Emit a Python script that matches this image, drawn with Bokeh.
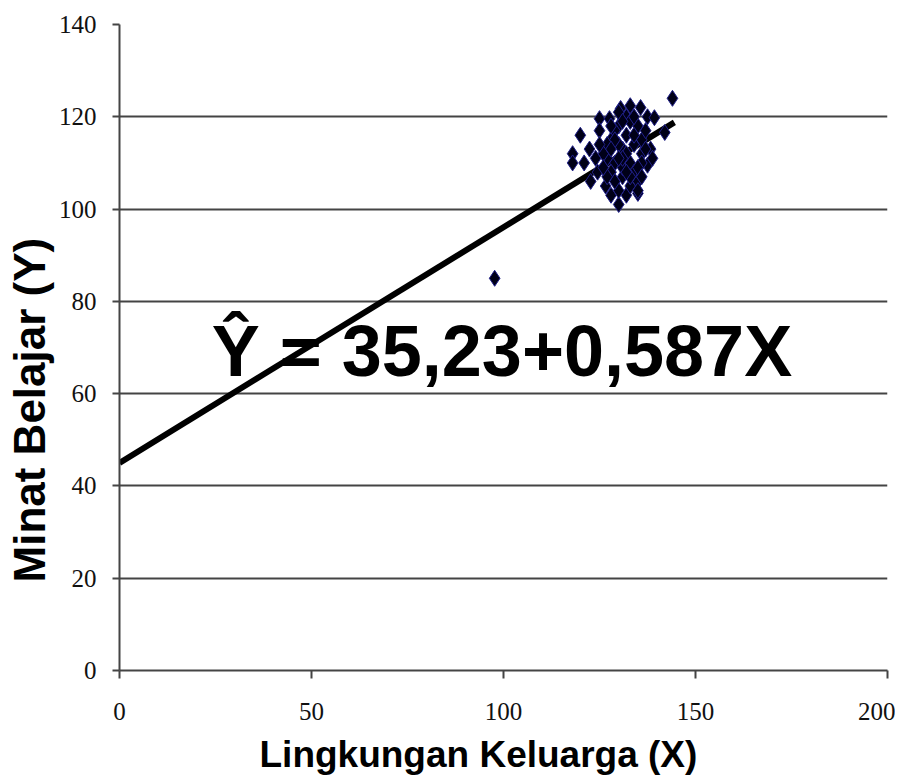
from bokeh.plotting import figure
from bokeh.models import Label, FixedTicker, Title
from bokeh.embed import file_html
from bokeh.resources import INLINE

# Data
x_vals = [144, 97.7, 120, 118, 122.4, 118, 121, 122.7, 125, 127.6, 125, 130.5, 133, 135.7,
          137.5, 139.3, 142, 130, 128, 132, 135, 126.6, 124.5, 137.5, 138.3, 138.8,
          128, 130, 131, 132, 133, 134, 135, 136, 129, 131, 133, 130, 127, 128, 134, 135,
          136, 132, 130, 129, 127, 126, 133, 137, 134, 131, 129, 136, 135, 128, 132, 130,
          127, 126, 134, 125, 124, 131, 137, 133, 131, 129, 135, 132, 130, 136, 128]
y_vals = [124, 85, 116, 112, 113, 110, 110, 106, 119.6, 119.6, 117, 121.8, 122.4, 122,
          120, 119.8, 116.6, 101, 103, 103, 103.4, 105, 108, 109.5, 113, 111,
          115, 118, 113, 116, 110, 114, 118, 112, 110, 107, 105, 104, 111, 108, 108, 106,
          115, 120, 121, 117, 114, 112, 119, 117, 120, 109, 106, 110, 104, 118, 112, 114,
          107, 109, 116, 114, 111, 119, 113, 107, 111, 115, 109, 108, 111, 107, 113]
line_x = [0, 144.5]
line_y = [45, 118.8]
x_ticks = [0, 50, 100, 150, 200]
y_ticks = [0, 20, 40, 60, 80, 100, 120, 140]
equation = "\u0176 = 35,23+0,587X"
x_title = "Lingkungan Keluarga (X)"
y_title = "Minat Belajar (Y)"

p = figure(frame_width=768, frame_height=646, x_range=(0, 200), y_range=(0, 140),
           output_backend="svg", toolbar_location=None,
           min_border_left=118, min_border_right=8, min_border_top=24, min_border_bottom=10)
p.outline_line_color = None
p.background_fill_color = "white"

p.xgrid.grid_line_color = None
p.ygrid.grid_line_color = "#444444"
p.ygrid.grid_line_width = 2
p.ygrid.ticker = FixedTicker(ticks=y_ticks)

p.xaxis.ticker = FixedTicker(ticks=x_ticks)
p.yaxis.ticker = FixedTicker(ticks=y_ticks)
for ax in (p.xaxis, p.yaxis):
    ax.axis_line_color = "#444444"
    ax.axis_line_width = 2
    ax.major_tick_line_color = "#444444"
    ax.major_tick_line_width = 2
    ax.minor_tick_line_color = None
    ax.major_label_text_font = "Liberation Serif"
    ax.major_label_text_font_size = "25px"
    ax.major_label_text_color = "#111111"

p.xaxis.major_tick_out = 8
p.xaxis.major_tick_in = 0
p.xaxis.major_label_standoff = 24
p.yaxis.major_tick_out = 7
p.yaxis.major_tick_in = 0
p.yaxis.major_label_standoff = 16

p.add_layout(Title(text=x_title, align="left", offset=140, text_font="Liberation Sans",
                   text_font_style="bold", text_font_size="37px", text_color="black",
                   standoff=19), "below")
p.add_layout(Title(text=y_title, align="left", offset=88, text_font="Liberation Sans",
                   text_font_style="bold", text_font_size="44px", text_color="black",
                   standoff=4), "left")

p.line(line_x, line_y, line_color="black", line_width=6)
p.scatter(x_vals, y_vals, marker="diamond", size=16, fill_color="#000018",
          line_color="#20208a", line_width=1)

p.add_layout(Label(x=24, y=69.2, text=equation, text_font="Liberation Sans",
                   text_font_style="bold", text_font_size="72px", text_color="black",
                   text_baseline="alphabetic"))

open("out.html", "w").write(file_html(p, INLINE))
